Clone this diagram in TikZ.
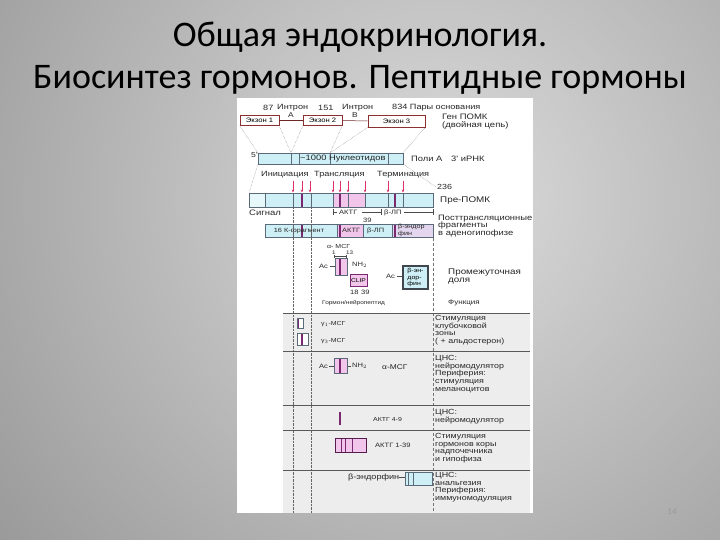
\documentclass[tikz,border=0pt]{standalone}
\usepackage{fontspec}
\setmainfont{Carlito}
\newfontfamily\dfont[FakeStretch=1.2]{Liberation Sans}
\usetikzlibrary{arrows.meta}
\definecolor{cy}{HTML}{CDEFF5}
\definecolor{cyl}{HTML}{E6F8FA}
\definecolor{pk}{HTML}{F2C6EA}
\definecolor{pu}{HTML}{7A2870}
\definecolor{rd}{HTML}{E0306A}
\definecolor{bd}{HTML}{5A6A78}
\definecolor{exb}{HTML}{8A3030}
\definecolor{tg}{HTML}{EDEDED}
\definecolor{bgin}{HTML}{DCDCDC}
\definecolor{bgout}{HTML}{959595}
\begin{document}
\begin{tikzpicture}[x=1pt,y=-1pt,
  lbl/.style={font=\dfont\fontsize{#1}{7.8}\selectfont, text=black!85, inner sep=0pt, anchor=west},
  lbl/.default=7.2,
  clbl/.style={lbl=#1, anchor=center},
  clbl/.default=6.2,
  mlbl/.style={lbl=#1, anchor=north west, align=left},
  mlbl/.default=7.4,
  dots/.style={densely dotted, black!60, line width=0.4},
  rule/.style={black!65, line width=0.7},
  bar/.style={draw=bd, line width=0.5},
  exon/.style={draw=exb, fill=white, line width=0.6, inner sep=0pt, font=\dfont\fontsize{6.4}{8}\selectfont},
  pl/.style={pu, line width=1.6},
  tl/.style={bd, line width=0.4},
  rarr/.style={rd, line width=0.6, -{Stealth[length=3pt,width=2.6pt]}}]
\useasboundingbox (0,0) rectangle (720,540);
% background
\begin{scope}
\clip (0,0) rectangle (720,540);
\shade[inner color=bgin, outer color=bgout] (440,200) circle (600);
\end{scope}
% title
\node[font=\fontsize{36}{44}\selectfont, text=black] (t1) at (360,37) {Общая эндокринология.};
\node[font=\fontsize{36}{44}\selectfont, text=black] (t2) at (360,80) {Биосинтез гормонов. Пептидные гормоны};
% picture area
\fill[white] (237,98) rectangle (533,513);
\fill[tg] (283,313) rectangle (530,513);
% ---- gene
\node[lbl=7.6] (n87) at (263,108) {87};
\node[lbl=7.6] (in1) at (277,108) {Интрон};
\node[lbl=7.6] (n151) at (318,108) {151};
\node[lbl=7.6] (in2) at (342,108) {Интрон};
\node[lbl=7.6] (n834) at (392,108) {834 Пары основания};
\node[exon, minimum width=39pt, minimum height=10pt] (ex1) at (259.5,120.5) {Экзон 1};
\node[exon, minimum width=39pt, minimum height=10pt] (ex2) at (322.5,120.5) {Экзон 2};
\node[exon, minimum width=57pt, minimum height=12pt] (ex3) at (396.5,121) {Экзон 3};
\draw[exb!80!black, line width=0.5] (ex1.east) -- (ex2.west);
\draw[exb!80!black, line width=0.5] (ex2.east) -- (ex3.west);
\node[clbl=7] (la) at (291,115) {А};
\node[clbl=7] (lb) at (355,115) {В};
\node[lbl=7.9] (gen) at (442,117) {Ген ПОМК};
\node[lbl=7.9] (dc) at (442,125.5) {(двойная цепь)};
% ---- mRNA
\coordinate (m0) at (258,153);
\coordinate (m1) at (291,153);
\coordinate (m2) at (330,153);
\coordinate (m3) at (403,153);
\fill[cy] (258,153) rectangle (403,164);
\draw[tl] (291,153) -- (291,164) (299,153) -- (299,164) (330,153) -- (330,164) (388,153) -- (388,164);
\draw[bar] (258,153) rectangle (403,164);
\draw[dots] (ex1.south west) -- (m0) (ex1.south east) -- (m1) (ex2.south west) -- (m1)
  (ex2.south east) -- (m2) (ex3.south west) -- (m2) (ex3.south east) -- (m3);
\node[lbl=7.2] (p5) at (251,155) {5'};
\node[lbl=7.8] (nuc) at (300,158.5) {\textasciitilde1000 Нуклеотидов};
\node[lbl=7.8] (poly) at (411,158.5) {Поли А};
\node[lbl=7.8] (m3p) at (451,158.5) {3' иРНК};
\node[lbl=7.6] (ini) at (261,175) {Инициация};
\node[lbl=7.6] (tra) at (314,175) {Трансляция};
\node[lbl=7.6] (ter) at (377,175) {Терминация};
% ---- pre-POMC
\coordinate (p0) at (249,193);
\coordinate (p1) at (436,187);
\draw[dots] (258,164) -- (p0);
\draw[dots] (403,164) -- (p1);
\node[lbl=7.4] (n236) at (437,187) {236};
\fill[cyl] (249,193) rectangle (265,207);
\fill[cy] (265,193) rectangle (333,207);
\fill[pk] (333,193) rectangle (365,207);
\fill[cy] (365,193) rectangle (433,207);
\draw[tl] (265,193) -- (265,207) (293,193) -- (293,207) (311,193) -- (311,207) (333,193) -- (333,207)
  (348,193) -- (348,207) (365,193) -- (365,207) (388,193) -- (388,207) (403,193) -- (403,207);
\draw[pl] (302,193) -- (302,207) (340,193) -- (340,207) (395,193) -- (395,207);
\draw[bar] (249,193) rectangle (433,207);
\foreach \x in {293,302,310,333,340,348,365,388,403} \draw[rarr] (\x,181) -- (\x,192.5);
\node[lbl=8.2] (pre) at (440,200) {Пре-ПОМК};
\node[lbl=7.9] (sig) at (249,212.5) {Сигнал};
% brackets
\draw[black!70, line width=0.4] (333,209) -- (333,215) (333,212) -- (337,212);
\node[lbl=6.3] (actl) at (339,212.5) {АКТГ};
\draw[black!70, line width=0.4] (362,212) -- (381,212) (381,209) -- (381,215);
\node[lbl=6.3] (bll) at (384,212.5) {β-ЛП};
\draw[black!70, line width=0.4] (404,212) -- (433,212) (433,209) -- (433,215);
\node[lbl=6.3] (n39) at (363,220) {39};
% ---- fragments
\fill[cy] (265,224) rectangle (337,237);
\fill[pk] (337,224) rectangle (363,237);
\fill[cy] (363,224) rectangle (392,237);
\fill[pk!60!cy] (392,224) rectangle (433,237);
\draw[tl] (293,224) -- (293,237) (311,224) -- (311,237);
\draw[pl] (302,224) -- (302,237) (340,224) -- (340,237) (395,224) -- (395,237);
\draw[bar] (265,224) rectangle (433,237) (337,224) -- (337,237) (363,224) -- (363,237) (392,224) -- (392,237);
\node[clbl=6.1] (k16) at (299,230.5) {16 К-фрагмент};
\node[lbl=6.2] (fa) at (342,230.5) {АКТГ};
\node[lbl=6.2] (fb) at (367,230.5) {β-ЛП};
\node[lbl, align=left, font=\dfont\fontsize{6}{6.4}\selectfont] (fe) at (398,230.5) {β-эндор\\фин};
\node[mlbl=7.8] (post) at (438,214.5) {Посттрансляционные\\фрагменты\\в аденогипофизе};
% vertical guides
\draw[dots] (293,207) -- (293,513) (311,207) -- (311,513);
\draw[densely dashed, black!55, line width=0.4] (433,238) -- (433,513);
% ---- intermediate lobe
\node[lbl=5.8] (amsg) at (327,247) {α- МСГ};
\node[lbl=5.2] (a1) at (332,252.5) {1};
\node[lbl=5.2] (a13) at (346,252.5) {13};
\draw[black!70, line width=0.4] (334,255) -- (334,258) (334,256) -- (346,256) (346,255) -- (346,258);
\fill[pk] (335,258) rectangle (347,275);
\draw[pl] (340,258) -- (340,275);
\draw[bd, line width=0.5] (335,258) rectangle (347,275);
\node[lbl=6.3] (ac1) at (319,266) {Ac};
\draw[black!70, line width=0.4] (330,266) -- (335,266);
\node[lbl=6.3] (nh1) at (352,265) {NH$_2$};
\node[draw=pu, fill=pk, line width=0.5, minimum width=17pt, minimum height=12pt, inner sep=0pt, font=\dfont\fontsize{5.6}{7}\selectfont] (clip) at (358.5,280.5) {CLIP};
\node[lbl=6.3] (c18) at (350,292) {18};
\node[lbl=6.3] (c39) at (361,292) {39};
\node[lbl=6.3] (ac2) at (386,276) {Ac};
\draw[black!70, line width=0.4] (397,276) -- (403,276);
\node[draw=black!80!cyan, line width=1.2, fill=cy, minimum width=25pt, minimum height=23pt, inner sep=0pt, align=left, font=\dfont\fontsize{5.8}{6.8}\selectfont] (bend) at (415.5,277.5) {β-эн-\\дор-\\фин};
\node[mlbl=8.2] (pd) at (448,268.5) {Промежуточная\\доля};
% ---- table
\node[lbl=5.4] (hh) at (322,303) {Гормон/нейропептид};
\node[lbl=6.7] (hf) at (448,303) {Функция};
\draw[rule] (283,313) -- (530,313);
\draw[rule] (283,351) -- (530,351);
\draw[rule] (283,405) -- (530,405);
\draw[rule] (283,430) -- (530,430);
\draw[rule] (283,470) -- (530,470);
% row 1
\fill[white] (297,318) rectangle (303,328);
\draw[pl, line width=1.2] (298,318) -- (298,328);
\draw[bd, line width=0.5] (297,318) rectangle (303,328);
\fill[white] (297,333) rectangle (308,345);
\draw[pl, line width=1.2] (302,333) -- (302,345);
\draw[bd, line width=0.5] (297,333) rectangle (308,345);
\node[lbl=5.8] (g1) at (321,324) {γ$_1$-МСГ};
\node[lbl=5.8] (g3) at (321,341) {γ$_3$-МСГ};
\node[mlbl] (f1) at (435,315) {Стимуляция\\клубочковой\\зоны\\( + альдостерон)};
% row 2
\node[lbl=6.3] (ac3) at (319,366) {Ac};
\draw[black!70, line width=0.4] (329,366) -- (334,366) (347,366) -- (351,366);
\fill[pk] (334,358) rectangle (347,373);
\draw[pl] (340,358) -- (340,373);
\draw[bd, line width=0.5] (334,358) rectangle (347,373);
\node[lbl=6.3] (nh3) at (352,366) {NH$_2$};
\node[lbl=7] (am) at (382,367) {α-МСГ};
\node[mlbl] (f2) at (435,355) {ЦНС:\\нейромодулятор\\Периферия:\\стимуляция\\меланоцитов};
% row 3
\draw[pl, line width=1.4] (340,412) -- (340,425);
\node[lbl=5.8] (a49) at (373,420) {АКТГ 4-9};
\node[mlbl] (f3) at (435,409) {ЦНС:\\нейромодулятор};
% row 4
\fill[pk] (335,438) rectangle (366,452);
\draw[pu, line width=0.8] (341,438) -- (341,452) (345,438) -- (345,452) (352,438) -- (352,452);
\draw[pu!70!black, line width=0.5] (335,438) rectangle (366,452);
\node[lbl=6.3] (a139) at (375,445) {АКТГ 1-39};
\node[mlbl] (f4) at (435,433) {Стимуляция\\гормонов коры\\надпочечника\\и гипофиза};
% row 5
\node[lbl=7.6] (be) at (348,477.5) {β-эндорфин};
\draw[black!70, line width=0.4] (be.east) -- (405,477.5);
\fill[cy] (405,472) rectangle (432,485);
\draw[bd, line width=0.5] (405,472) rectangle (432,485) (408,472) -- (408,485) (413,472) -- (413,485);
\node[mlbl] (f5) at (435,472) {ЦНС:\\анальгезия\\Периферия:\\иммуномодуляция};
% page number
\node[font=\fontsize{9}{10}\selectfont, text=black!40] (pg) at (672,512) {14};
\end{tikzpicture}
\end{document}
